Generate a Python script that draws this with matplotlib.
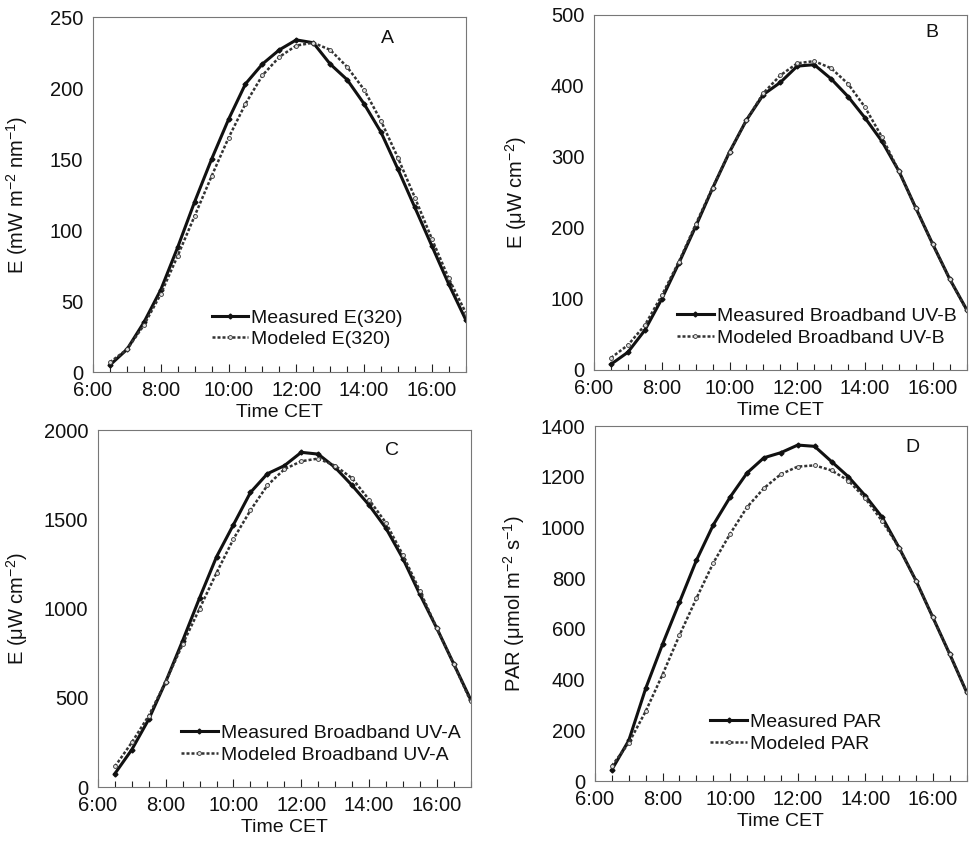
import matplotlib.pyplot as plt
from matplotlib.ticker import MultipleLocator, FuncFormatter

plt.rcParams['font.family'] = ['Liberation Sans', 'DejaVu Sans']
plt.rcParams['mathtext.fontset'] = 'custom'
plt.rcParams['mathtext.rm'] = 'Liberation Sans'
plt.rcParams['mathtext.default'] = 'regular'

# time of day (hours, CET), every 30 minutes from 6:30 to 17:00
hours = [6.5, 7.0, 7.5, 8.0, 8.5, 9.0, 9.5, 10.0, 10.5, 11.0, 11.5,
         12.0, 12.5, 13.0, 13.5, 14.0, 14.5, 15.0, 15.5, 16.0, 16.5, 17.0]

e320_meas = [5, 16, 35, 58, 88, 120, 150, 178, 203, 217, 227,
             234, 232, 217, 206, 189, 169, 143, 116, 89, 62, 37]
e320_mod = [7, 16, 33, 55, 82, 110, 138, 165, 189, 209, 222,
            230, 232, 227, 215, 199, 177, 151, 123, 94, 66, 42]

uvb_meas = [8, 25, 56, 100, 150, 202, 256, 307, 352, 388, 405,
            428, 430, 410, 385, 355, 322, 280, 228, 177, 128, 85]
uvb_mod = [17, 35, 63, 105, 152, 205, 257, 307, 352, 390, 415,
           432, 435, 425, 403, 370, 328, 280, 228, 177, 128, 84]

uva_meas = [75, 210, 380, 590, 820, 1060, 1290, 1470, 1650, 1755, 1800,
            1875, 1865, 1790, 1690, 1580, 1450, 1280, 1080, 890, 690, 490]
uva_mod = [115, 250, 400, 590, 800, 1000, 1200, 1390, 1550, 1690, 1780,
           1825, 1840, 1800, 1730, 1610, 1480, 1300, 1100, 890, 690, 480]

par_meas = [45, 160, 365, 540, 705, 870, 1010, 1120, 1215, 1275, 1295,
            1325, 1320, 1260, 1200, 1125, 1040, 920, 790, 645, 500, 350]
par_mod = [60, 150, 275, 420, 575, 720, 860, 975, 1080, 1155, 1210,
           1240, 1245, 1225, 1185, 1115, 1025, 920, 790, 645, 500, 350]

panels = [
    dict(rect=[0.0956, 0.558, 0.383, 0.4216], meas=e320_meas, mod=e320_mod,
         ymax=250, ystep=50, ylabel='E (mW m$^{\u22122}$ nm$^{\u22121}$)', lpad=14,
         labels=('Measured E(320)', 'Modeled E(320)'),
         leg=(0.318, 0.178), letter='A', lpos=(0.79, 0.94)),
    dict(rect=[0.6105, 0.5606, 0.383, 0.4216], meas=uvb_meas, mod=uvb_mod,
         ymax=500, ystep=100, ylabel='E (\u03bcW cm$^{\u22122}$)', lpad=16,
         labels=('Measured Broadband UV-B', 'Modeled Broadband UV-B'),
         leg=(0.222, 0.176), letter='B', lpos=(0.906, 0.95)),
    dict(rect=[0.1007, 0.0653, 0.383, 0.424], meas=uva_meas, mod=uva_mod,
         ymax=2000, ystep=500, ylabel='E (\u03bcW cm$^{\u22122}$)', lpad=10,
         labels=('Measured Broadband UV-A', 'Modeled Broadband UV-A'),
         leg=(0.222, 0.175), letter='C', lpos=(0.79, 0.944)),
    dict(rect=[0.6115, 0.0724, 0.382, 0.4216], meas=par_meas, mod=par_mod,
         ymax=1400, ystep=200, ylabel='PAR (\u03bcmol m$^{\u22122}$ s$^{\u22121}$)', lpad=10,
         labels=('Measured PAR', 'Modeled PAR'),
         leg=(0.31, 0.19), letter='D', lpos=(0.855, 0.94)),
]

fig = plt.figure(figsize=(9.73, 8.42), dpi=100)

for p in panels:
    ax = fig.add_axes(p['rect'])
    ax.plot(hours, p['meas'], color='#111111', lw=2.2, marker='D', ms=2.5,
            label=p['labels'][0])
    ax.plot(hours, p['mod'], color='#333333', lw=1.8, ls=(0, (1.2, 0.8)),
            marker='o', ms=2.8, mfc='#dddddd', mec='#333333', mew=0.6,
            label=p['labels'][1])
    ax.set_xlim(6, 17)
    ax.set_ylim(0, p['ymax'])
    ax.xaxis.set_major_locator(MultipleLocator(2))
    ax.xaxis.set_minor_locator(MultipleLocator(0.5))
    ax.xaxis.set_major_formatter(FuncFormatter(lambda v, pos: '%d:00' % int(round(v))))
    ax.yaxis.set_major_locator(MultipleLocator(p['ystep']))
    ax.tick_params(axis='x', which='major', direction='in', length=6, width=0.8,
                   labelsize=14.5, pad=6.5, colors='#222222', labelcolor='#111111')
    ax.tick_params(axis='x', which='minor', direction='in', length=4, width=0.8,
                   colors='#222222')
    ax.tick_params(axis='y', which='major', direction='in', length=0,
                   labelsize=14.5, pad=7, labelcolor='#111111')
    for s in ax.spines.values():
        s.set_color('#777777')
        s.set_linewidth(0.8)
    ax.set_xlabel('Time CET', fontsize=14, labelpad=3, color='#111111')
    ax.set_ylabel(p['ylabel'], fontsize=14.5, labelpad=p['lpad'], color='#111111')
    ax.text(p['lpos'][0], p['lpos'][1], p['letter'], transform=ax.transAxes,
            fontsize=14, ha='center', va='center', color='#111111')
    ax.legend(loc='upper left', bbox_to_anchor=p['leg'], frameon=False,
              fontsize=14, handlelength=1.9, handletextpad=0.15,
              labelspacing=0.2, borderaxespad=0, borderpad=0,
              labelcolor='#111111')

fig.savefig('out.png', dpi=100)
